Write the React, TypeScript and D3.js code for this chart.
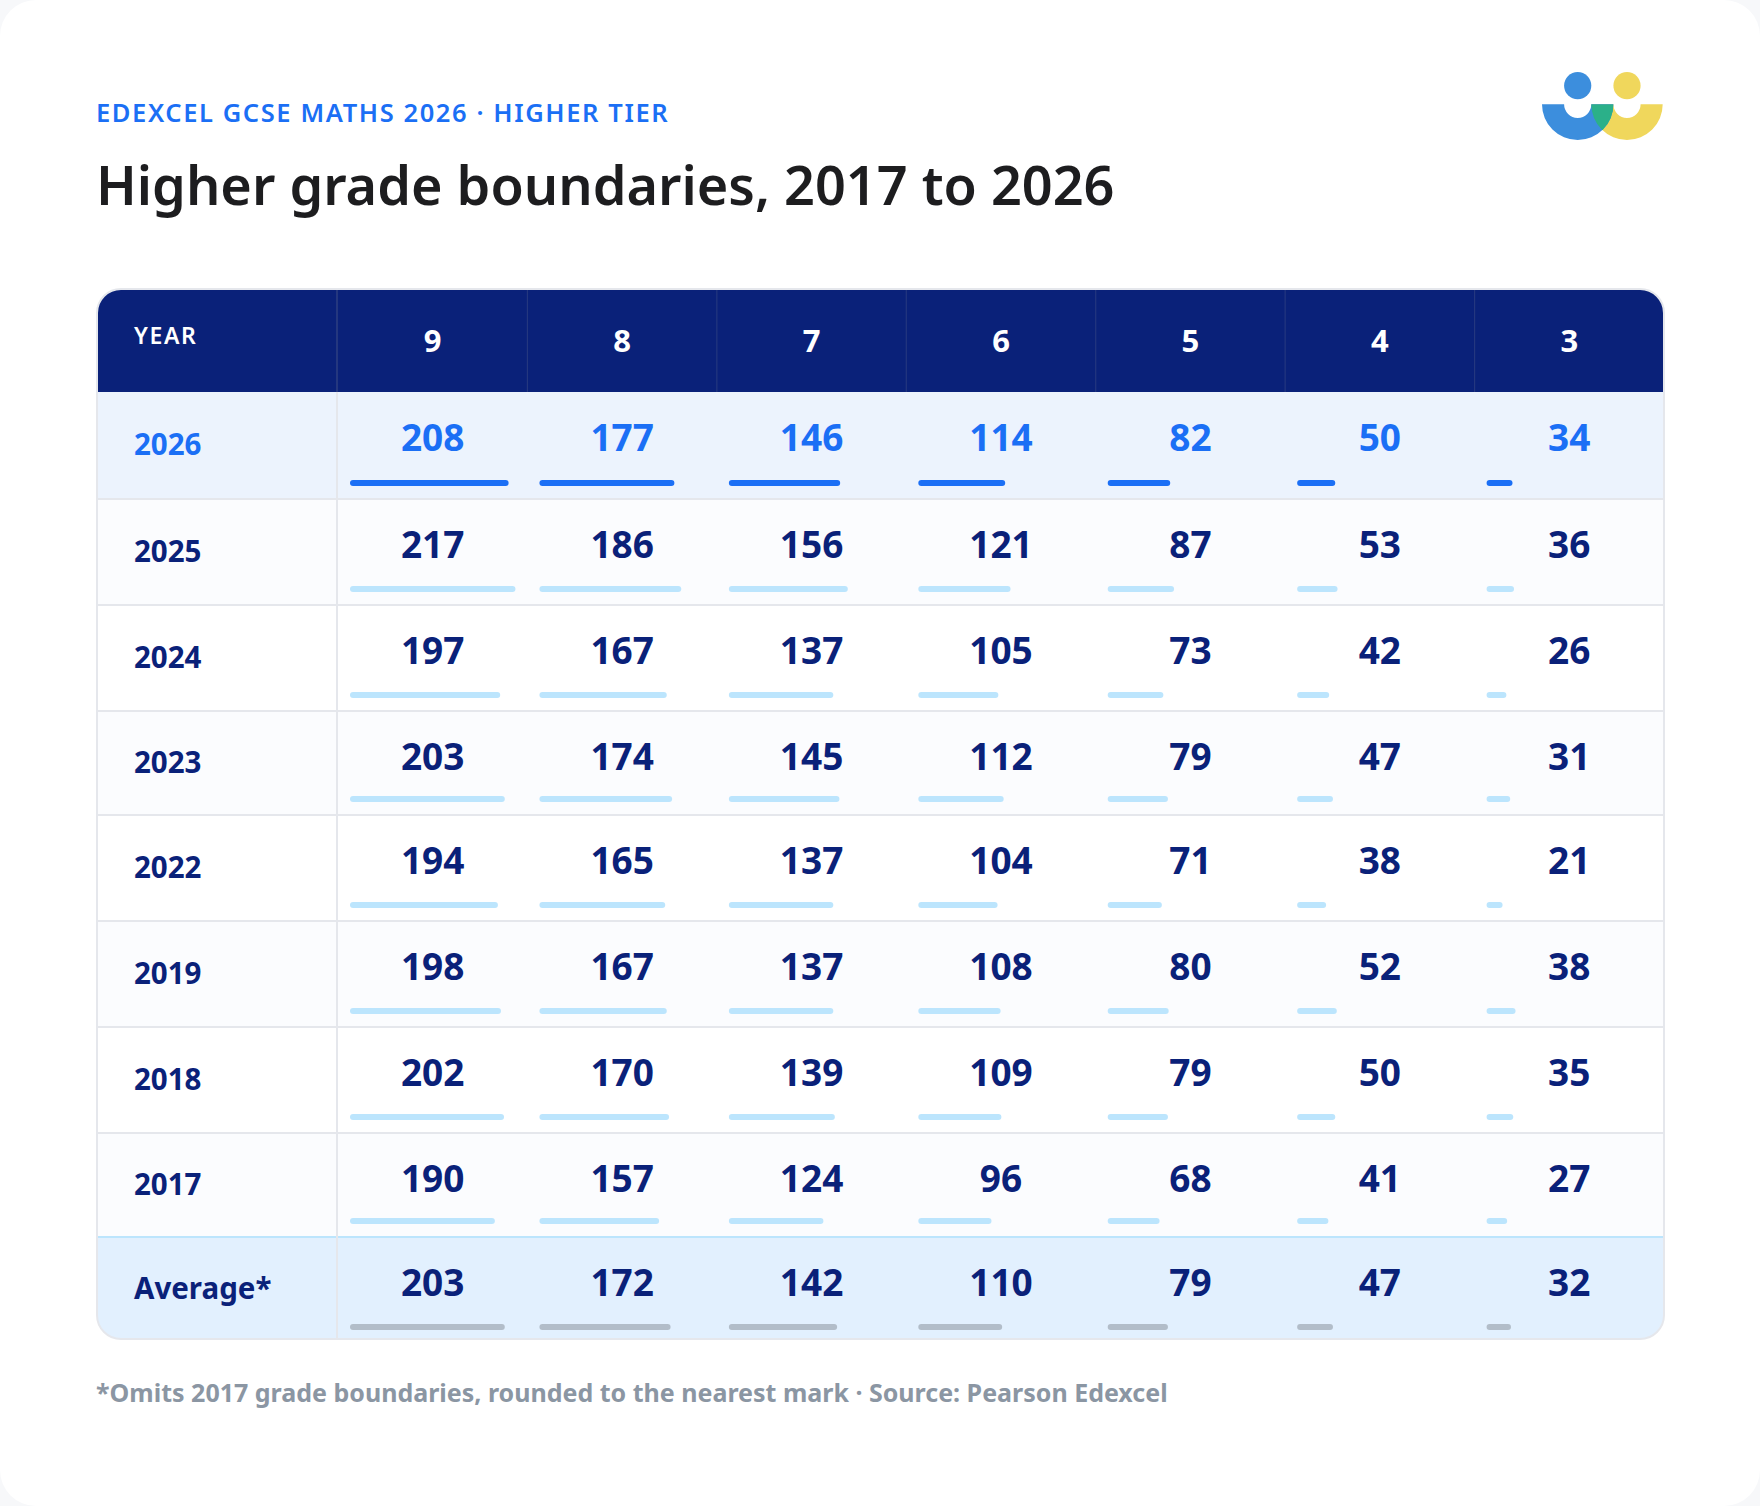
import React from "react";
import * as d3 from "d3";

const grades = ["9", "8", "7", "6", "5", "4", "3"];
const years = ["2026", "2025", "2024", "2023", "2022", "2019", "2018", "2017", "Average*"];

const marks2026 = [208, 177, 146, 114, 82, 50, 34];
const marks2025 = [217, 186, 156, 121, 87, 53, 36];
const marks2024 = [197, 167, 137, 105, 73, 42, 26];
const marks2023 = [203, 174, 145, 112, 79, 47, 31];
const marks2022 = [194, 165, 137, 104, 71, 38, 21];
const marks2019 = [198, 167, 137, 108, 80, 52, 38];
const marks2018 = [202, 170, 139, 109, 79, 50, 35];
const marks2017 = [190, 157, 124, 96, 68, 41, 27];
const marksAverage = [203, 172, 142, 110, 79, 47, 32];

const rowMarks = [
  marks2026,
  marks2025,
  marks2024,
  marks2023,
  marks2022,
  marks2019,
  marks2018,
  marks2017,
  marksAverage,
];

const WIDTH = 1760;
const HEIGHT = 1506;
const FONT = "'Noto Sans', sans-serif";

const NAVY = "#0a2179";
const BLUE = "#1b6ff5";
const LINE = "#e5e7ec";

// table frame, rows are not quite even in the original
const left = 97;
const right = 1664;
const top = 290;
const headerBottom = 392;
const firstCol = 338;
const rowEdges = [392, 499, 605, 711, 815, 921, 1027, 1133, 1237, 1339];

const x = d3.scaleBand<string>().domain(grades).range([firstCol, right]);
const barWidth = d3.scaleLinear().domain([0, 240]).range([0, 183]);

const rowFill = (i: number) => {
  if (i === 0) return "#ecf3fd";
  if (i === years.length - 1) return "#e2f0fe";
  return i % 2 === 1 ? "#fbfcfe" : "#ffffff";
};

const barFill = (i: number) => {
  if (i === 0) return BLUE;
  if (i === years.length - 1) return "#b2bdc9";
  return "#bce5fd";
};

const Logo = () => {
  const cy = 104.3;
  const blueX = 1577.7;
  const yellowX = 1627;
  const ring = d3
    .arc<unknown>()
    .innerRadius(13.6)
    .outerRadius(35.7)
    .startAngle(Math.PI / 2)
    .endAngle((3 * Math.PI) / 2);
  const bowl = d3
    .arc<unknown>()
    .innerRadius(0)
    .outerRadius(35.7)
    .startAngle(Math.PI / 2)
    .endAngle((3 * Math.PI) / 2);
  return (
    <g>
      <defs>
        <clipPath id="blue-bowl">
          <path d={bowl(null)!} transform={`translate(${blueX},${cy})`} />
        </clipPath>
      </defs>
      <circle cx={blueX} cy={85.7} r={13.6} fill="#3c8edd" />
      <circle cx={yellowX} cy={85.7} r={13.6} fill="#f0d75c" />
      <path d={ring(null)!} transform={`translate(${yellowX},${cy})`} fill="#f0d75c" />
      <path d={ring(null)!} transform={`translate(${blueX},${cy})`} fill="#3c8edd" />
      <g clipPath="url(#blue-bowl)">
        <path d={ring(null)!} transform={`translate(${yellowX},${cy})`} fill="#2bb089" />
      </g>
    </g>
  );
};

export default function App() {
  return (
    <svg
      width={WIDTH}
      height={HEIGHT}
      style={{ position: "absolute", left: 0, top: 0, display: "block", background: "#f7f8fa" }}
      fontFamily={FONT}
    >
      <defs>
        <clipPath id="table-clip">
          <rect x={left} y={top - 1} width={right - left} height={1339 - top + 1} rx={24} />
        </clipPath>
      </defs>

      <rect x={0} y={0} width={WIDTH} height={HEIGHT} rx={36} fill="#ffffff" />

      <text x={96} y={122} fontSize={25.5} fontWeight={600} letterSpacing={1.6} fill={BLUE}>
        EDEXCEL GCSE MATHS 2026 · HIGHER TIER
      </text>
      <text x={96} y={205} fontSize={54} fontWeight={600} fill="#1d1d1f">
        Higher grade boundaries, 2017 to 2026
      </text>
      <Logo />

      <g clipPath="url(#table-clip)">
        <rect x={left} y={top - 1} width={right - left} height={headerBottom - top + 1} fill={NAVY} />
        {years.map((year, i) => (
          <rect
            key={year}
            x={left}
            y={rowEdges[i]}
            width={right - left}
            height={rowEdges[i + 1] - rowEdges[i]}
            fill={rowFill(i)}
          />
        ))}
        {/* row rules */}
        {rowEdges.slice(1, -1).map((y, i) => (
          <line
            key={y}
            x1={left}
            x2={right}
            y1={y}
            y2={y}
            strokeWidth={2}
            stroke={i === years.length - 2 ? "#bce5fd" : LINE}
          />
        ))}
        {/* header separators */}
        <line x1={firstCol - 1} x2={firstCol - 1} y1={top} y2={headerBottom} stroke="#24377f" strokeWidth={2} />
        {grades.slice(1).map((g) => (
          <line
            key={g}
            x1={x(g)!}
            x2={x(g)!}
            y1={top}
            y2={headerBottom}
            stroke="#24377f"
            strokeWidth={1.2}
          />
        ))}
        <line x1={firstCol - 1} x2={firstCol - 1} y1={headerBottom} y2={1339} stroke={LINE} strokeWidth={2} />
      </g>

      <text x={134} y={344} fontSize={23} fontWeight={600} letterSpacing={1.6} fill="#ffffff">
        YEAR
      </text>
      {grades.map((g) => (
        <text
          key={g}
          x={x(g)! + x.bandwidth() / 2}
          y={352}
          textAnchor="middle"
          fontSize={31}
          fontWeight={700}
          fill="#ffffff"
        >
          {g}
        </text>
      ))}

      {years.map((year, i) => {
        const rowTop = rowEdges[i];
        const rowBottom = rowEdges[i + 1];
        const isLast = i === years.length - 1;
        const color = i === 0 ? BLUE : NAVY;
        return (
          <g key={year}>
            <text
              x={134}
              y={(rowTop + rowBottom) / 2 + (isLast ? 11 : 9.5)}
              fontSize={29.5}
              fontWeight={700}
              fill={color}
            >
              {year}
            </text>
            {rowMarks[i].map((v, j) => (
              <g key={grades[j]}>
                <text
                  x={x(grades[j])! + x.bandwidth() / 2}
                  y={rowTop + 59}
                  textAnchor="middle"
                  fontSize={37}
                  fontWeight={700}
                  fill={color}
                >
                  {v}
                </text>
                <rect
                  x={x(grades[j])! + 12}
                  y={rowBottom - (isLast ? 15 : 19)}
                  width={barWidth(v)}
                  height={6}
                  rx={3}
                  fill={barFill(i)}
                />
              </g>
            ))}
          </g>
        );
      })}

      <rect
        x={left}
        y={top - 1}
        width={right - left}
        height={1339 - top + 1}
        rx={24}
        fill="none"
        stroke={LINE}
        strokeWidth={2}
      />

      <text x={96} y={1402} fontSize={25} fontWeight={700} fill="#8b96a3">
        *Omits 2017 grade boundaries, rounded to the nearest mark · Source: Pearson Edexcel
      </text>
    </svg>
  );
}
